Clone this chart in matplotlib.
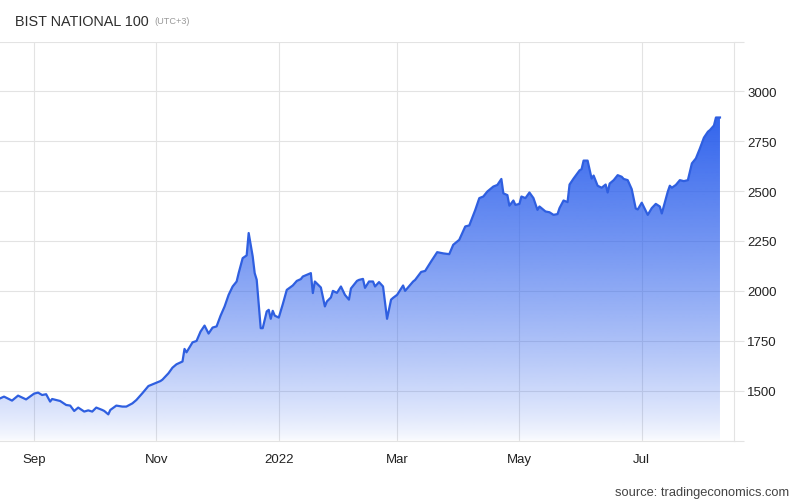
import matplotlib
matplotlib.use("Agg")
import matplotlib.pyplot as plt
import matplotlib.dates as mdates
import numpy as np
import pandas as pd
from matplotlib.colors import to_rgb

plt.rcParams['font.family'] = ['Liberation Sans', 'DejaVu Sans']

dates = [
    "2021-08-15", "2021-08-17", "2021-08-21", "2021-08-24", "2021-08-28", "2021-09-01",
    "2021-09-03", "2021-09-05", "2021-09-07", "2021-09-09", "2021-09-10", "2021-09-14",
    "2021-09-17", "2021-09-19", "2021-09-21", "2021-09-23", "2021-09-26", "2021-09-28",
    "2021-09-30", "2021-10-02", "2021-10-05", "2021-10-06", "2021-10-08", "2021-10-09",
    "2021-10-12", "2021-10-15", "2021-10-17", "2021-10-20", "2021-10-22", "2021-10-25",
    "2021-10-28", "2021-11-01", "2021-11-03", "2021-11-04", "2021-11-07", "2021-11-09",
    "2021-11-11", "2021-11-14", "2021-11-15", "2021-11-16", "2021-11-19", "2021-11-21",
    "2021-11-23", "2021-11-25", "2021-11-27", "2021-11-29", "2021-12-01", "2021-12-03",
    "2021-12-05", "2021-12-07", "2021-12-09", "2021-12-11", "2021-12-12", "2021-12-14",
    "2021-12-16", "2021-12-17", "2021-12-19", "2021-12-20", "2021-12-21", "2021-12-23",
    "2021-12-24", "2021-12-26", "2021-12-27", "2021-12-28", "2021-12-29", "2021-12-30",
    "2022-01-01", "2022-01-03", "2022-01-05", "2022-01-08", "2022-01-10", "2022-01-12",
    "2022-01-13", "2022-01-17", "2022-01-18", "2022-01-19", "2022-01-21", "2022-01-22",
    "2022-01-24", "2022-01-25", "2022-01-27", "2022-01-28", "2022-01-30", "2022-02-01",
    "2022-02-03", "2022-02-05", "2022-02-06", "2022-02-09", "2022-02-10", "2022-02-12",
    "2022-02-13", "2022-02-15", "2022-02-17", "2022-02-18", "2022-02-20", "2022-02-22",
    "2022-02-24", "2022-02-26", "2022-02-27", "2022-03-01", "2022-03-04", "2022-03-05",
    "2022-03-09", "2022-03-10", "2022-03-13", "2022-03-15", "2022-03-18", "2022-03-21",
    "2022-03-24", "2022-03-27", "2022-03-29", "2022-04-01", "2022-04-04", "2022-04-06",
    "2022-04-09", "2022-04-11", "2022-04-13", "2022-04-15", "2022-04-18", "2022-04-20",
    "2022-04-22", "2022-04-23", "2022-04-25", "2022-04-26", "2022-04-28", "2022-04-29",
    "2022-05-01", "2022-05-02", "2022-05-04", "2022-05-06", "2022-05-08", "2022-05-10",
    "2022-05-11", "2022-05-14", "2022-05-16", "2022-05-18", "2022-05-20", "2022-05-21",
    "2022-05-23", "2022-05-25", "2022-05-26", "2022-05-28", "2022-05-31", "2022-06-01",
    "2022-06-02", "2022-06-04", "2022-06-06", "2022-06-07", "2022-06-09", "2022-06-11",
    "2022-06-13", "2022-06-14", "2022-06-15", "2022-06-17", "2022-06-19", "2022-06-21",
    "2022-06-22", "2022-06-24", "2022-06-26", "2022-06-28", "2022-06-29", "2022-07-01",
    "2022-07-04", "2022-07-06", "2022-07-08", "2022-07-10", "2022-07-11", "2022-07-14",
    "2022-07-15", "2022-07-16", "2022-07-18", "2022-07-20", "2022-07-22", "2022-07-24",
    "2022-07-26", "2022-07-28", "2022-07-30", "2022-08-01", "2022-08-03", "2022-08-04",
    "2022-08-06", "2022-08-07", "2022-08-09",
]
values = [
    1461, 1470, 1450, 1475, 1456, 1485,
    1490, 1478, 1482, 1445, 1458, 1448,
    1428, 1425, 1398, 1415, 1395, 1401,
    1395, 1415, 1403, 1398, 1381, 1403,
    1425, 1420, 1420, 1436, 1453, 1487,
    1523, 1540, 1548, 1555, 1587, 1615,
    1632, 1646, 1709, 1692, 1742, 1749,
    1796, 1826, 1786, 1816, 1822, 1876,
    1922, 1980, 2022, 2047, 2089, 2164,
    2178, 2290, 2173, 2089, 2056, 1813,
    1813, 1897, 1905, 1860, 1900, 1876,
    1866, 1933, 2005, 2027, 2050, 2059,
    2072, 2089, 1989, 2047, 2027, 2017,
    1922, 1947, 1967, 2000, 1990, 2022,
    1980, 1956, 2012, 2050, 2055, 2060,
    2015, 2047, 2047, 2022, 2044, 2022,
    1860, 1956, 1965, 1980, 2027, 2000,
    2047, 2055, 2095, 2100, 2148, 2194,
    2188, 2184, 2231, 2256, 2323, 2328,
    2406, 2465, 2473, 2498, 2523, 2531,
    2561, 2489, 2480, 2427, 2453, 2431,
    2436, 2473, 2465, 2493, 2465, 2406,
    2423, 2398, 2394, 2381, 2385, 2415,
    2453, 2445, 2533, 2563, 2604, 2610,
    2653, 2653, 2563, 2578, 2527, 2517,
    2533, 2493, 2538, 2555, 2580, 2572,
    2561, 2555, 2510, 2413, 2408, 2442,
    2381, 2415, 2436, 2423, 2388, 2498,
    2527, 2517, 2531, 2555, 2550, 2555,
    2639, 2664, 2714, 2768, 2798, 2806,
    2829, 2869, 2869,
]

x_tick_dates = ["2021-09-01", "2021-11-01", "2022-01-01", "2022-03-01", "2022-05-01", "2022-07-01"]
x_tick_labels = ["Sep", "Nov", "2022", "Mar", "May", "Jul"]
y_ticks = [1250, 1500, 1750, 2000, 2250, 2500, 2750, 3000, 3250]
y_tick_labels = ["", "1500", "1750", "2000", "2250", "2500", "2750", "3000", ""]

title = "BIST NATIONAL 100"
subtitle = "(UTC+3)"
source = "source: tradingeconomics.com"

x = mdates.date2num(pd.to_datetime(dates))
y = np.array(values, dtype=float)

W, H = 800, 502
fig = plt.figure(figsize=(W / 100, H / 100), dpi=100)
ax = fig.add_axes([0, 1 - 441.5 / H, 734 / W, (441.5 - 42.5) / H])

x0 = mdates.date2num(pd.Timestamp("2021-08-15"))
x1 = mdates.date2num(pd.Timestamp("2022-08-16"))
ymin, ymax = 1250, 3250
ax.set_xlim(x0, x1)
ax.set_ylim(ymin, ymax)

grid_c = "#e3e3e3"
# vertical gradient fill under the line
base = np.array(to_rgb("#2b5fec"))
n = 256
levels = np.linspace(ymin, ymax, n)
alpha = np.clip(np.clip((levels - 1250) / 1650, 0, None) ** 0.8 * 0.95 + 0.03, 0, 1)
img = np.zeros((n, 1, 4))
img[:, 0, :3] = base
img[:, 0, 3] = alpha
poly = ax.fill_between(x, y, ymin, facecolor="none", edgecolor="none")
im = ax.imshow(img, aspect="auto", origin="lower", extent=[x0, x1, ymin, ymax],
               zorder=2, interpolation="bilinear")
im.set_clip_path(poly.get_paths()[0], transform=ax.transData)

ax.plot(x, y, color="#2f5fe0", lw=1.6, zorder=3, solid_joinstyle="round")

ax.set_xticks(mdates.date2num(pd.to_datetime(x_tick_dates)))
ax.set_xticklabels(x_tick_labels)
ax.set_yticks(y_ticks)
ax.set_yticklabels(y_tick_labels)
ax.yaxis.tick_right()
ax.grid(True, color=grid_c, lw=0.8, zorder=0)
ax.set_axisbelow(True)
ax.tick_params(axis="x", length=0, pad=9, labelsize=9.5, labelcolor="#222222")
ax.tick_params(axis="y", length=7.5, width=0.8, color=grid_c, pad=2,
               labelsize=9.5, labelcolor="#222222", right=True, left=False)
for s in ["left", "top"]:
    ax.spines[s].set_visible(False)
ax.spines["bottom"].set_color(grid_c)
ax.spines["right"].set_color(grid_c)
ax.spines["bottom"].set_linewidth(0.8)
ax.spines["right"].set_linewidth(0.8)

fig.text(15 / W, 1 - 21.5 / H, title, fontsize=10.4, color="#2e2e2e", va="center", ha="left")
fig.text(154 / W, 1 - 22 / H, subtitle, fontsize=6.6, color="#999999", va="center", ha="left")
fig.text(789 / W, 1 - 493 / H, source, fontsize=9.3, color="#444444", va="center", ha="right")

fig.savefig("out.png", dpi=100)
